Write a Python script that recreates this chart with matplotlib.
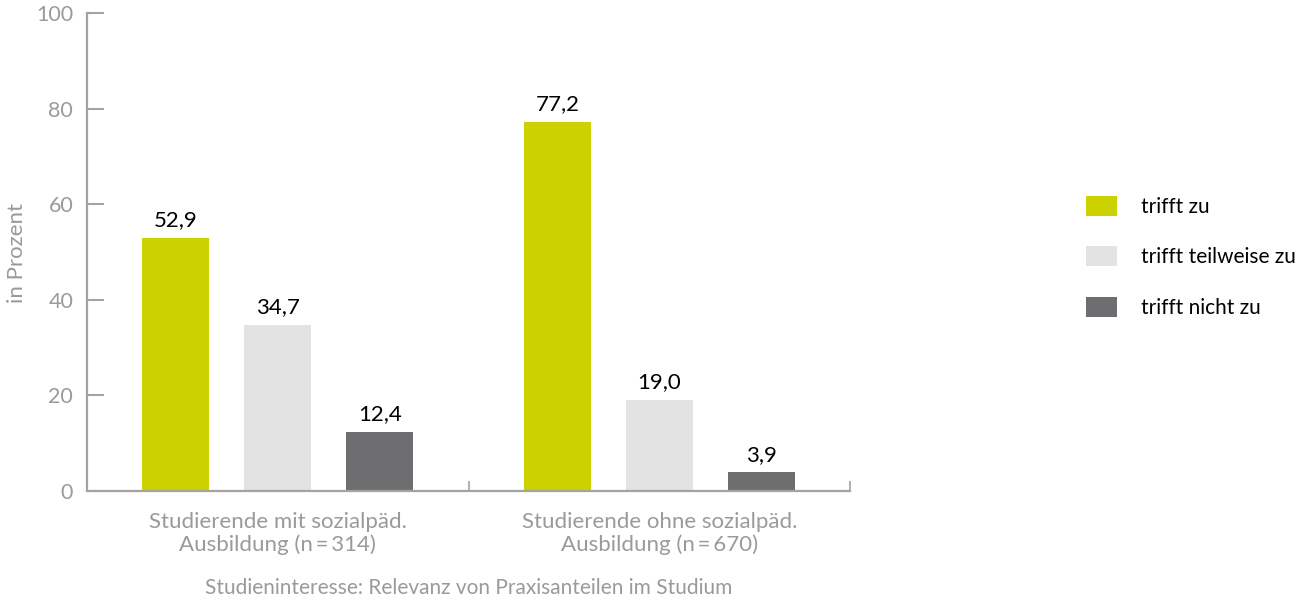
import numpy as np
import matplotlib.pyplot as plt
from matplotlib.patches import Patch

plt.rcParams['font.family'] = ['Lato', 'DejaVu Sans']

# Werte in Prozent
gruppen = ["Studierende mit sozialpäd.\nAusbildung (n\u2009=\u2009314)",
           "Studierende ohne sozialpäd.\nAusbildung (n\u2009=\u2009670)"]
antworten = ["trifft zu", "trifft teilweise zu", "trifft nicht zu"]
trifft_zu = [52.9, 77.2]
teilweise = [34.7, 19.0]
nicht_zu = [12.4, 3.9]
farben = ["#CCD100", "#E2E3E2", "#6E6E70"]
y_ticks = [0, 20, 40, 60, 80, 100]

ACHSE = "#A3A3A3"
GRAU_TEXT = "#9A9A9A"

fig = plt.figure(figsize=(13.05, 6), dpi=100)
ax = fig.add_axes([0.0667, 0.1817, 0.5847, 0.7967])

x = np.arange(len(gruppen))
breite = 0.1756
abstand = 0.267
for i, (werte, farbe) in enumerate(zip([trifft_zu, teilweise, nicht_zu], farben)):
    pos = x + (i - 1) * abstand
    ax.bar(pos, werte, width=breite, color=farbe, zorder=2)
    for px, v in zip(pos, werte):
        ax.text(px, v + 1.6, f"{v:.1f}".replace(".", ","), ha="center", va="bottom",
                fontsize=16, color="black")

ax.set_xlim(-0.5, 1.5)
ax.set_ylim(0, 100)
ax.set_yticks(y_ticks)
ax.set_xticks([-0.5, 0.5, 1.5])
ax.set_xticklabels([])
ax.tick_params(axis="y", direction="in", length=12, width=1.5, color=ACHSE,
               labelcolor=GRAU_TEXT, labelsize=15.5, pad=10)
ax.tick_params(axis="x", direction="in", length=7, width=1.2, color=ACHSE)

for s in ["top", "right"]:
    ax.spines[s].set_visible(False)
for s in ["left", "bottom"]:
    ax.spines[s].set_color(ACHSE)
    ax.spines[s].set_linewidth(1.6)

for xi, name in zip(x, gruppen):
    ax.text(xi, -4.3, name, ha="center", va="top", fontsize=16, color=GRAU_TEXT,
            linespacing=1.2, transform=ax.transData, clip_on=False)

ax.text(0.5, -18.3, "Studieninteresse: Relevanz von Praxisanteilen im Studium",
        ha="center", va="top", fontsize=15, color=GRAU_TEXT, transform=ax.transData)

fig.text(0.013, 0.578, "in Prozent", rotation=90, ha="center", va="center",
         fontsize=16, color=GRAU_TEXT)

handles = [Patch(facecolor=f, edgecolor="none") for f in farben]
fig.legend(handles, antworten, loc="center left", bbox_to_anchor=(0.832, 0.572),
           frameon=False, fontsize=15, handlelength=1.49, handleheight=1.1,
           labelspacing=1.4, handletextpad=1.15, borderpad=0, borderaxespad=0)

fig.savefig("out.png", dpi=100)
